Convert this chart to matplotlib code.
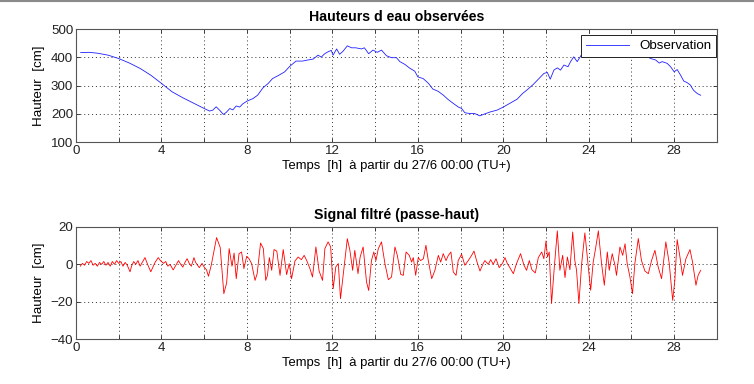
import matplotlib
matplotlib.use("Agg")
import matplotlib.pyplot as plt
from matplotlib.lines import Line2D

plt.rcParams['font.family'] = ['Liberation Sans', 'DejaVu Sans']
plt.rcParams['font.size'] = 9.6

# observed water height (cm) vs hours since 27/6 00:00
obs_time = [0.22, 0.62, 1.0, 1.5, 2.0, 2.5, 3.0, 3.5, 4.0, 4.5, 5.0, 5.5, 6.0, 6.25,
            6.4, 6.56, 6.72, 6.9, 7.03, 7.2, 7.34, 7.5, 7.66, 7.8, 8.0, 8.28, 8.5,
            8.75, 9.0, 9.2, 9.5, 9.77, 10.0, 10.3, 10.6, 10.86, 11.1, 11.33, 11.48,
            11.64, 11.8, 11.95, 12.03, 12.2, 12.34, 12.5, 12.7, 12.9, 13.1, 13.36,
            13.5, 13.7, 13.9, 14.1, 14.3, 14.53, 14.77, 15.0, 15.16, 15.4, 15.6,
            15.86, 16.0, 16.25, 16.5, 16.7, 16.95, 17.2, 17.4, 17.66, 17.9, 18.05,
            18.2, 18.44, 18.67, 18.9, 19.14, 19.4, 19.7, 20.0, 20.3, 20.65, 20.9,
            21.1, 21.4, 21.67, 21.9, 22.06, 22.2, 22.37, 22.53, 22.68, 22.84, 23.03,
            23.15, 23.3, 23.46, 23.65, 23.8, 24.2, 24.6, 25.0, 25.4, 25.8, 26.2,
            26.66, 26.9, 27.13, 27.3, 27.44, 27.67, 27.83, 28.0, 28.14, 28.3, 28.45,
            28.6, 28.76, 28.9, 29.08, 29.24]
obs_height = [417, 418, 415, 408, 396, 380, 361, 337, 308, 278, 257, 238, 219, 210,
              213, 225, 213, 198, 205, 219, 214, 228, 224, 235, 245, 254, 266,
              292, 308, 325, 337, 349, 368, 387, 387, 391, 394, 408, 401,
              413, 420, 425, 408, 430, 411, 422, 441, 434, 434, 430,
              434, 413, 426, 418, 426, 406, 399, 399, 385, 375, 363,
              351, 331, 325, 308, 288, 280, 266, 252, 237, 224, 219,
              204, 201, 201, 193, 200, 207, 213, 224, 237, 252, 272,
              284, 304, 325, 343, 347, 323, 355, 363, 355, 373, 367,
              385, 402, 385, 408, 420, 432, 440, 444, 443, 436, 425,
              406, 396, 391, 380, 385, 379, 367, 349, 357, 337, 316,
              311, 302, 284, 272, 266]

# high-pass filtered signal (cm)
filt_time = [0.2, 0.3, 0.4, 0.5, 0.6, 0.7, 0.8, 0.9, 1.0, 1.1, 1.2, 1.3, 1.4, 1.5,
             1.6, 1.7, 1.8, 1.9, 2.0, 2.1, 2.2, 2.3, 2.4, 2.53, 2.6, 2.7, 2.8, 2.9,
             3.0, 3.1, 3.23, 3.35, 3.5, 3.6, 3.7, 3.85, 3.95, 4.1, 4.2, 4.3, 4.4,
             4.55, 4.65, 4.8, 4.9, 5.0, 5.1, 5.2, 5.3, 5.4, 5.52, 5.6, 5.77, 5.9,
             6.0, 6.11, 6.2, 6.33, 6.58, 6.75, 6.87, 6.92, 7.05, 7.17, 7.3, 7.4,
             7.5, 7.63, 7.75, 7.86, 7.99, 8.1, 8.22, 8.38, 8.48, 8.64, 8.77, 8.88,
             8.96, 9.05, 9.16, 9.27, 9.4, 9.55, 9.7, 9.86, 9.98, 10.09, 10.25,
             10.4, 10.55, 10.68, 10.8, 10.95, 11.07, 11.23, 11.38, 11.54, 11.65,
             11.8, 11.92, 12.04, 12.16, 12.28, 12.38, 12.54, 12.7, 12.82, 12.95,
             13.05, 13.2, 13.3, 13.44, 13.6, 13.7, 13.83, 13.94, 14.04, 14.15,
             14.3, 14.46, 14.62, 14.77, 14.93, 15.04, 15.2, 15.32, 15.45, 15.6,
             15.71, 15.79, 15.9, 16.02, 16.13, 16.26, 16.38, 16.49, 16.65, 16.8,
             16.96, 17.07, 17.19, 17.32, 17.43, 17.55, 17.66, 17.79, 17.89, 18.05,
             18.2, 18.36, 18.52, 18.63, 18.75, 18.91, 19.06, 19.14, 19.3, 19.41,
             19.53, 19.66, 19.81, 19.97, 20.08, 20.19, 20.31, 20.47, 20.62, 20.81,
             20.97, 21.09, 21.22, 21.34, 21.5, 21.64, 21.8, 21.9, 22.0, 22.07,
             22.15, 22.26, 22.39, 22.53, 22.65, 22.78, 22.89, 23.0, 23.12, 23.25,
             23.35, 23.43, 23.54, 23.67, 23.82, 23.95, 24.09, 24.21, 24.32, 24.45,
             24.6, 24.73, 24.87, 24.96, 25.1, 25.23, 25.3, 25.46, 25.59, 25.7,
             25.8, 25.93, 26.05, 26.16, 26.32, 26.47, 26.63, 26.79, 26.94, 27.1,
             27.25, 27.41, 27.61, 27.77, 27.93, 28.03, 28.14, 28.27, 28.39, 28.55,
             28.74, 28.86, 29.02, 29.12, 29.24]
filt_height = [-1, 0.5, -0.5, 1.5, 0.5, 2, -0.5, 0.5, -1, 1, 0, 1.5, -0.5, 1,
               -1, 1.5, 0, 2, 0.5, 1.5, -1, 1, -0.5, -4, -1, 1.5, 0, 2,
               -1, 1, 3.6, 0, -4, -1.5, 1, 3.6, 2, 0.5, 1.5, -1, 0,
               -3, -1, 2, 0, -1.5, 1, 3, 0.5, -1, 3.6, 1, -1.8, 0.5,
               -1.5, -3, -6.4, -0.5, 14.3, 9, -8.6, -15.7, -10, 8.4, -1, 6,
               -7.7, 5.7, 6.6, -2.3, 4.3, 3, 0.4, -8.6, -5, 11.4, 8.4, -8.6,
               -6, 3.6, -3.2, 7.9, 7, -5.9, 7.9, -5.5, 0.4, -7.7, 1.8,
               3.9, 2.5, 4.8, 2, -2.3, -6.8, 9.3, -3.6, -8.6, 8.4,
               12, 9.3, -13, -1.4, 0.4, -18.4, -2.3, 13.7, 7.5, -3.2,
               7.5, -5, 3.9, 9.3, -9.5, -14, 2, 6.6, 2, 8.4,
               12, 0.4, -8.2, -6.8, 9.3, 4.8, -5.4, -5.9, 6.6, 4.8,
               1.2, 3.6, -5.9, 3.6, 2, 3, 10.2, 2, -7.7, -3.2,
               4.8, 1.2, 5.7, 2, 4.8, 6.6, -4.1, -5.9, 2, 5.4,
               -0.5, 2, 4.8, 7.1, 2, -3.6, 0.4, 2, 0, 2.5,
               0, 3, -1.8, 0.7, 3.6, 0.4, -1.8, -5, 0.4, 5.7,
               -0.5, -3.2, 2, -2.9, -4.6, 3.6, 6.6, 3, 12.5, 3.9,
               6.6, -21, -1.4, 17.9, -3.2, 4.8, -7.1, 3.9, -2.9, 17.3,
               2, -3.2, -21, 0.4, 16.8, 2, -13.9, 1.2, 8.4, 17.9,
               0.4, -11.2, 6.6, -3.2, 5.7, -0.5, -5.9, 9.3, 4.8, 11,
               0.4, -6.8, -15.7, 0.4, 13.8, 2, -3.6, -5, 2, 7.5,
               -1.4, -7.7, 12, 0.4, -19.3, -8.6, 13.2, 3.9, -5.9, 3,
               7.9, 1.2, -11.2, -5.9, -3.2]

x_ticks = list(range(0, 31, 2))
x_labels = [str(v) if v % 4 == 0 and v < 30 else '' for v in x_ticks]
xlabel = 'Temps  [h]  à partir du 27/6 00:00 (TU+)'
ylabel = 'Hauteur  [cm]'

fig = plt.figure(figsize=(7.54, 3.84), dpi=100)
ax1 = fig.add_axes([0.1008, 0.630, 0.850, 0.294])
ax2 = fig.add_axes([0.1008, 0.117, 0.850, 0.292])


def style(ax):
    ax.set_xlim(0, 30)
    ax.set_xticks(x_ticks)
    ax.set_xticklabels(x_labels)
    ax.tick_params(direction='in', top=True, right=True, length=3, width=0.6,
                   labelsize=9.6, colors='#222222', pad=2)
    ax.grid(True, color='#333333', linestyle=(0, (1, 3)), linewidth=0.7)
    for s in ax.spines.values():
        s.set_color('#555555')
        s.set_linewidth(0.8)
    ax.set_xlabel(xlabel, fontsize=9.4, labelpad=2)
    ax.set_ylabel(ylabel, fontsize=9.6, labelpad=4)


ax1.plot(obs_time, obs_height, color='#2020ff', linewidth=0.6, label='Observation')
ax1.set_ylim(100, 500)
ax1.set_yticks([100, 200, 300, 400, 500])
style(ax1)
ax1.set_title('Hauteurs d eau observées', fontsize=10.2, fontweight='bold', pad=6)
leg = ax1.legend(loc='upper right', bbox_to_anchor=(0.999, 0.945), borderaxespad=0,
                 fancybox=False, framealpha=1, edgecolor='#222222', fontsize=9.6,
                 handlelength=3.2, borderpad=0.35)
leg.get_frame().set_linewidth(0.7)

ax2.plot(filt_time, filt_height, color='#ff0000', linewidth=0.6)
ax2.set_ylim(-40, 20)
ax2.set_yticks([-40, -20, 0, 20])
style(ax2)
ax2.set_title('Signal filtré (passe-haut)', fontsize=10.2, fontweight='bold', pad=6)

fig.add_artist(Line2D([0, 1], [0.998, 0.998], color='#8a8a8a', linewidth=1.5,
                      transform=fig.transFigure))

fig.savefig('out.png', dpi=100)
